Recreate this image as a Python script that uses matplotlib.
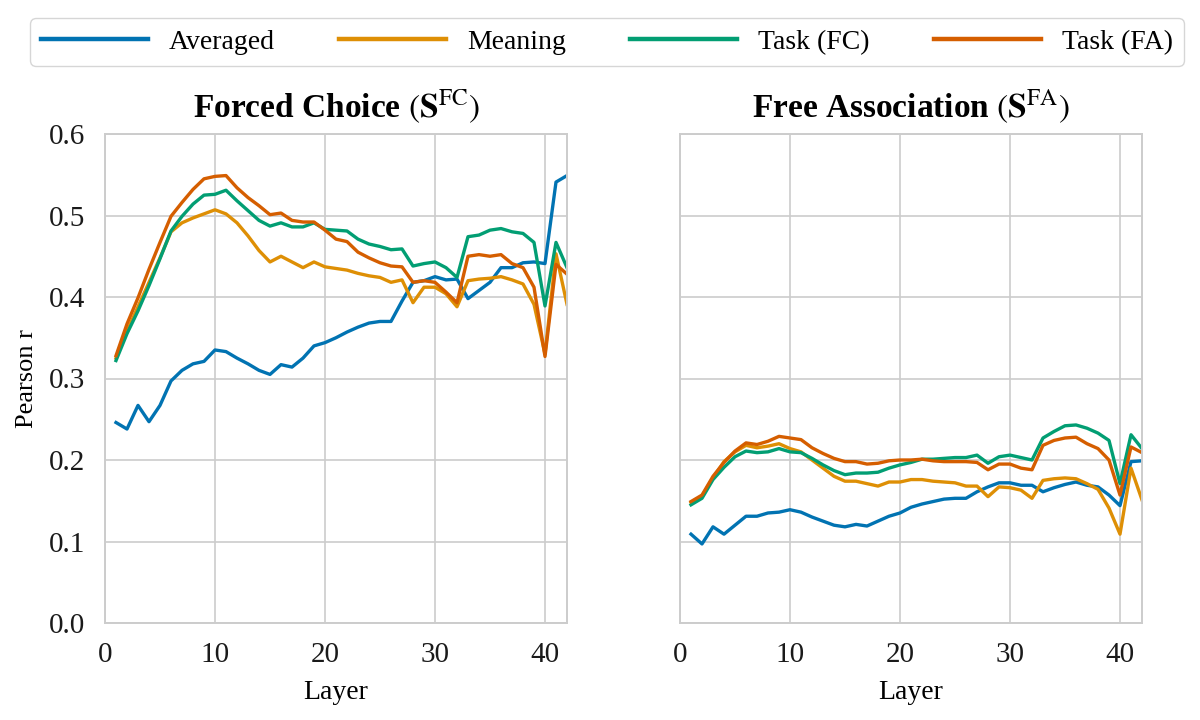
import numpy as np
import matplotlib
matplotlib.use("Agg")
import matplotlib.pyplot as plt

layers = list(range(1, 43))

fc_averaged = [0.246, 0.238, 0.267, 0.247, 0.267, 0.297, 0.310, 0.318, 0.321, 0.335,
               0.333, 0.325, 0.318, 0.310, 0.305, 0.317, 0.314, 0.325, 0.340, 0.344,
               0.350, 0.357, 0.363, 0.368, 0.370, 0.370, 0.395, 0.418, 0.420, 0.425,
               0.421, 0.422, 0.398, 0.408, 0.418, 0.436, 0.436, 0.442, 0.443, 0.441,
               0.541, 0.549]
fc_meaning = [0.325, 0.358, 0.388, 0.418, 0.448, 0.480, 0.491, 0.497, 0.502, 0.507,
              0.502, 0.491, 0.475, 0.457, 0.443, 0.450, 0.443, 0.436, 0.443, 0.437,
              0.435, 0.433, 0.429, 0.426, 0.424, 0.418, 0.421, 0.393, 0.412, 0.412,
              0.404, 0.388, 0.420, 0.422, 0.423, 0.425, 0.421, 0.416, 0.391, 0.330,
              0.453, 0.391]
fc_task_fc = [0.322, 0.355, 0.383, 0.414, 0.447, 0.481, 0.499, 0.514, 0.525, 0.526,
              0.531, 0.518, 0.506, 0.494, 0.487, 0.491, 0.486, 0.486, 0.491, 0.483,
              0.482, 0.481, 0.471, 0.465, 0.462, 0.458, 0.459, 0.438, 0.441, 0.443,
              0.436, 0.424, 0.474, 0.476, 0.482, 0.484, 0.480, 0.478, 0.467, 0.389,
              0.467, 0.436]
fc_task_fa = [0.328, 0.367, 0.399, 0.434, 0.467, 0.499, 0.516, 0.532, 0.545, 0.548,
              0.549, 0.534, 0.522, 0.512, 0.501, 0.503, 0.494, 0.492, 0.492, 0.482,
              0.471, 0.468, 0.455, 0.448, 0.442, 0.438, 0.437, 0.418, 0.420, 0.418,
              0.406, 0.393, 0.450, 0.452, 0.450, 0.452, 0.441, 0.436, 0.412, 0.327,
              0.440, 0.428]

fa_averaged = [0.109, 0.097, 0.118, 0.109, 0.120, 0.131, 0.131, 0.135, 0.136, 0.139,
               0.136, 0.130, 0.125, 0.120, 0.118, 0.121, 0.119, 0.125, 0.131, 0.135,
               0.142, 0.146, 0.149, 0.152, 0.153, 0.153, 0.161, 0.167, 0.172, 0.172,
               0.169, 0.169, 0.161, 0.166, 0.170, 0.173, 0.169, 0.167, 0.157, 0.144,
               0.198, 0.199]
fa_meaning = [0.148, 0.156, 0.178, 0.198, 0.210, 0.218, 0.215, 0.217, 0.220, 0.214,
              0.210, 0.200, 0.190, 0.180, 0.174, 0.174, 0.171, 0.168, 0.173, 0.173,
              0.176, 0.176, 0.174, 0.173, 0.172, 0.168, 0.168, 0.155, 0.167, 0.166,
              0.163, 0.153, 0.175, 0.177, 0.178, 0.177, 0.171, 0.164, 0.141, 0.109,
              0.190, 0.151]
fa_task_fc = [0.145, 0.153, 0.176, 0.191, 0.204, 0.211, 0.209, 0.210, 0.214, 0.210,
              0.209, 0.202, 0.194, 0.187, 0.182, 0.184, 0.184, 0.185, 0.190, 0.194,
              0.197, 0.201, 0.201, 0.202, 0.203, 0.203, 0.206, 0.196, 0.204, 0.206,
              0.203, 0.200, 0.227, 0.235, 0.242, 0.243, 0.239, 0.233, 0.224, 0.171,
              0.231, 0.214]
fa_task_fa = [0.149, 0.157, 0.180, 0.197, 0.211, 0.221, 0.219, 0.223, 0.229, 0.227,
              0.225, 0.215, 0.208, 0.202, 0.198, 0.198, 0.195, 0.196, 0.199, 0.200,
              0.200, 0.201, 0.199, 0.198, 0.198, 0.198, 0.197, 0.188, 0.195, 0.195,
              0.190, 0.188, 0.218, 0.224, 0.227, 0.228, 0.220, 0.214, 0.200, 0.157,
              0.216, 0.209]

series_names = ["Averaged", "Meaning", "Task (FC)", "Task (FA)"]
colors = ["#0173B2", "#DE8F05", "#029E73", "#D55E00"]
titles = [r"Forced Choice $(\mathbf{S}^{\mathrm{FC}})$",
          r"Free Association $(\mathbf{S}^{\mathrm{FA}})$"]
xticks = [0, 10, 20, 30, 40]
yticks = [0.0, 0.1, 0.2, 0.3, 0.4, 0.5, 0.6]

plt.rcParams["font.family"] = ["Liberation Serif", "DejaVu Serif"]
plt.rcParams["mathtext.fontset"] = "stix"

fig = plt.figure(figsize=(12, 7.2), dpi=100)
ax1 = fig.add_axes([105/1200, 1-623/720, 462/1200, 489/720])
ax2 = fig.add_axes([680/1200, 1-623/720, 462/1200, 489/720], sharey=ax1)

panels = [
    (ax1, [fc_averaged, fc_meaning, fc_task_fc, fc_task_fa]),
    (ax2, [fa_averaged, fa_meaning, fa_task_fc, fa_task_fa]),
]

for i, (ax, data) in enumerate(panels):
    for name, vals, c in zip(series_names, data, colors):
        ax.plot(layers, vals, color=c, lw=2.4, label=name)
    ax.set_xlim(0, 42)
    ax.set_ylim(0, 0.6)
    ax.set_xticks(xticks)
    ax.set_yticks(yticks)
    ax.grid(True, color="#cccccc", lw=1.2)
    ax.set_axisbelow(True)
    for sp in ax.spines.values():
        sp.set_color("#cccccc")
        sp.set_linewidth(1.4)
    ax.tick_params(length=0, pad=14, labelsize=21, colors="#1a1a1a")
    ax.set_xlabel("Layer", fontsize=20, labelpad=8)
    ax.set_title(titles[i], fontsize=24, fontweight="bold", pad=12)

ax1.set_ylabel("Pearson r", fontsize=19, labelpad=8)
ax1.set_yticklabels([f"{v:.1f}" for v in yticks])
plt.setp(ax2.get_yticklabels(), visible=False)

handles, labels = ax1.get_legend_handles_labels()
leg = fig.legend(handles, labels, loc="lower left", ncol=4, mode="expand",
                 bbox_to_anchor=(30/1200, 1-66/720, 1154/1200, 50/720),
                 borderaxespad=0, fontsize=20, handlelength=3.85,
                 handletextpad=0.75, frameon=True, fancybox=True,
                 edgecolor="#cccccc", borderpad=0.4)
for l in leg.get_lines():
    l.set_linewidth(3.2)

fig.savefig("out.png", dpi=100, facecolor="white")
